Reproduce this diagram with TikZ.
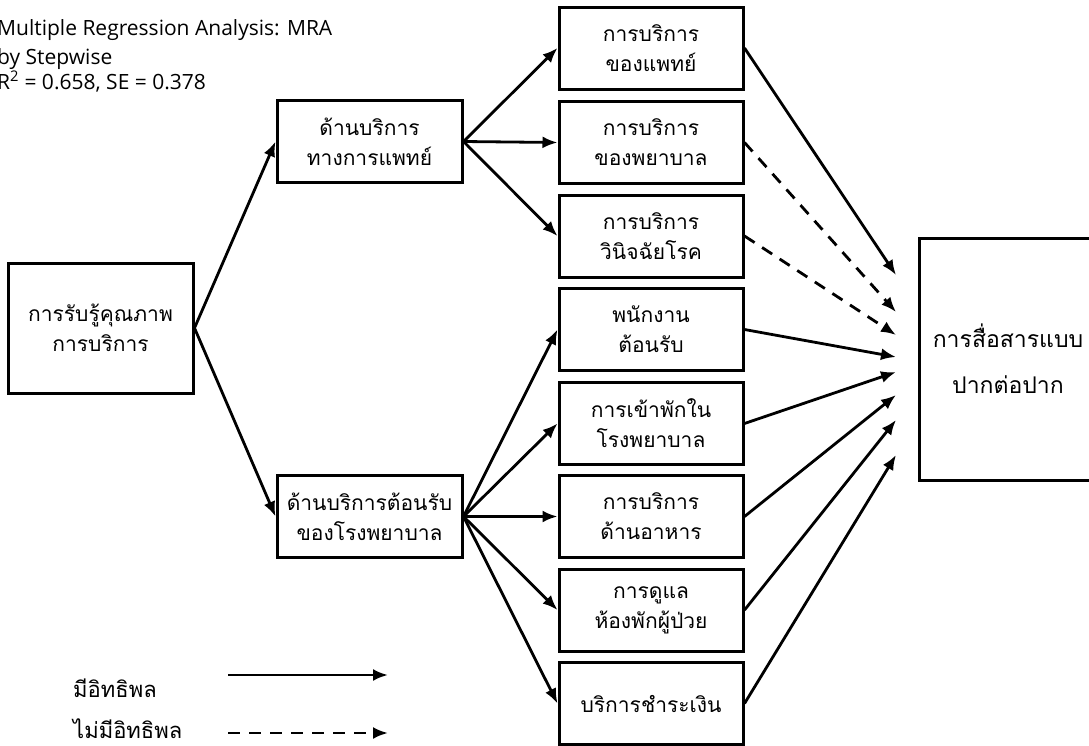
\documentclass[tikz,border=0pt]{standalone}
\usepackage{fontspec}
\setmainfont[Script=Thai]{Loma}
\newfontfamily\engfont{Open Sans}
\usetikzlibrary{arrows.meta}
\tikzset{
  box/.style={draw, line width=3pt, minimum width=184pt, minimum height=82pt,
    inner sep=0pt, align=center, font=\fontsize{21}{30}\selectfont},
  link/.style={line width=2.8pt, -{Latex[length=15pt,width=12pt]}},
  nolink/.style={link, dash pattern=on 12pt off 9pt},
  note/.style={anchor=base west, inner sep=0pt, font=\engfont\fontsize{21}{24}\selectfont},
  key/.style={anchor=west, inner sep=0pt, font=\fontsize{22}{24}\selectfont},
}

\begin{document}
\begin{tikzpicture}[x=1pt,y=-1pt]
  \useasboundingbox (0,0) rectangle (1089,745);
  % method
  \node[note] (mra1) at (-3,35) {Multiple Regression Analysis: MRA};
  \node[note] (mra2) at (-3,64) {by Stepwise};
  \node[note] (mra3) at (-3,89) {R\textsuperscript{2} = 0.658, SE = 0.378};
  % left side
  \node[box, minimum width=185pt, minimum height=130pt] (perc) at (100.5,328) {การรับรู้คุณภาพ\\การบริการ};
  \node[box, minimum width=185pt] (med) at (369.5,141.5) {ด้านบริการ\\ทางการแพทย์};
  \node[box, minimum width=185pt] (hosp) at (369.5,516.5) {ด้านบริการต้อนรับ\\ของโรงพยาบาล};
  % factors
  \node[box] (r1) at (651,48) {การบริการ\\ของแพทย์};
  \node[box] (r2) at (651,142.5) {การบริการ\\ของพยาบาล};
  \node[box] (r3) at (651,236) {การบริการ\\วินิจฉัยโรค};
  \node[box] (r4) at (651,329.5) {พนักงาน\\ต้อนรับ};
  \node[box] (r5) at (651,423.5) {การเข้าพักใน\\โรงพยาบาล};
  \node[box] (r6) at (651,516.5) {การบริการ\\ด้านอาหาร};
  \node[box] (r7) at (651,610) {การดูแล\\ห้องพักผู้ป่วย};
  \node[box] (r8) at (651,703.5) {บริการชำระเงิน};
  % outcome
  \node[box, minimum width=178pt, minimum height=242pt, font=\fontsize{23}{46}\selectfont] (wom) at (1008,359) {การสื่อสารแบบ\\ปากต่อปาก};
  \foreach \i/\y in {1/275,2/312,3/335,4/357,5/372,6/395,7/420,8/455}
    \coordinate (t\i) at (896,\y);

  \draw[link] (perc.east) -- (med.west);
  \draw[link] (perc.east) -- (hosp.west);
  \foreach \i in {1,2,3}
    \draw[link] (med.east) -- (r\i.west);
  \foreach \i in {4,...,8}
    \draw[link] (hosp.east) -- (r\i.west);
  \draw[link] (r1.east) -- (t1);
  \draw[nolink] (r2.east) -- (t2);
  \draw[nolink] (r3.east) -- (t3);
  \foreach \i in {4,...,8}
    \draw[link] (r\i.east) -- (t\i);

  % legend
  \node[key] (yes) at (73,688) {มีอิทธิพล};
  \node[key] (no) at (73,729) {ไม่มีอิทธิพล};
  \coordinate (ya) at (228,675);
  \coordinate (yb) at (388,675);
  \coordinate (na) at (228,733);
  \coordinate (nb) at (388,733);
  \draw[link] (ya) -- (yb);
  \draw[nolink] (na) -- (nb);
\end{tikzpicture}
\end{document}
